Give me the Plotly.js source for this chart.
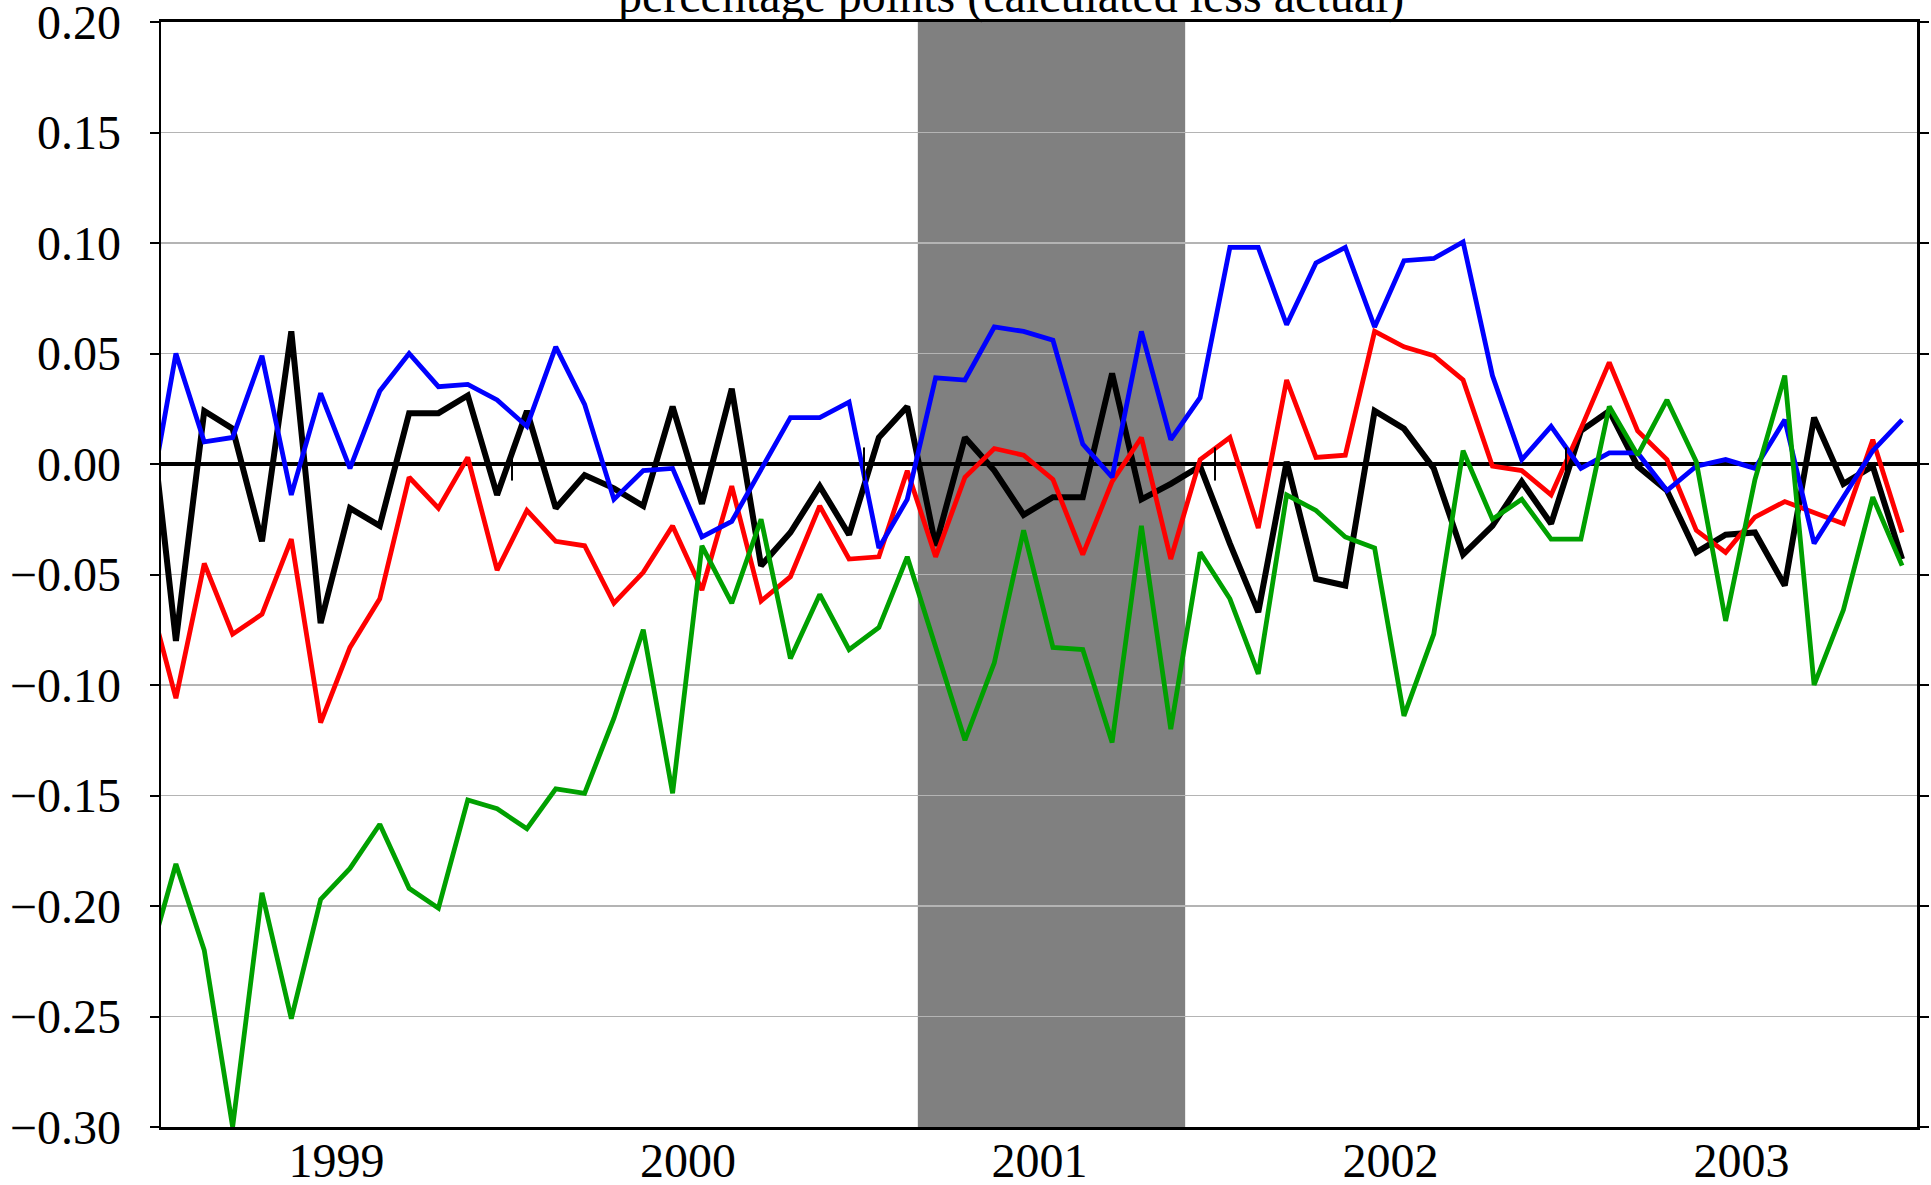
<!DOCTYPE html>
<html>
<head>
<meta charset="utf-8">
<script src="https://cdn.plot.ly/plotly-3.0.1.min.js"></script>
<style>html,body{margin:0;padding:0;background:#ffffff;overflow:hidden}</style>
</head>
<body>
<div id="chart" style="width:1931px;height:1185px"></div>
<script>
// Monthly observations, Dec 1998 (first, partly off-axis) through Dec 2003
const firstYear = 1998;
const firstMonthIndex = 11; // December (0-based)

const blueSeries = [-0.026,
  0.050, 0.010, 0.012, 0.049, -0.014, 0.032, -0.002, 0.033, 0.050, 0.035, 0.036, 0.029,
  0.017, 0.053, 0.027, -0.016, -0.003, -0.002, -0.033, -0.026, -0.002, 0.021, 0.021, 0.028,
  -0.038, -0.016, 0.039, 0.038, 0.062, 0.060, 0.056, 0.009, -0.006, 0.060, 0.011, 0.030,
  0.098, 0.098, 0.063, 0.091, 0.098, 0.062, 0.092, 0.093, 0.1005, 0.040, 0.002, 0.017,
  -0.002, 0.005, 0.005, -0.012, -0.001, 0.002, -0.002, 0.020, -0.036, -0.015, 0.006, 0.020];

const blackSeries = [0.041,
  -0.080, 0.024, 0.016, -0.035, 0.060, -0.072, -0.020, -0.028, 0.023, 0.023, 0.031, -0.014,
  0.024, -0.020, -0.005, -0.011, -0.019, 0.026, -0.018, 0.034, -0.046, -0.031, -0.010, -0.032,
  0.012, 0.026, -0.037, 0.012, -0.003, -0.023, -0.015, -0.015, 0.041, -0.016, -0.009, -0.001,
  -0.036, -0.067, 0.001, -0.052, -0.055, 0.024, 0.016, -0.002, -0.041, -0.028, -0.008, -0.027,
  0.015, 0.024, -0.001, -0.012, -0.040, -0.032, -0.031, -0.055, 0.021, -0.009, -0.001, -0.043];

const redSeries = [-0.055,
  -0.106, -0.045, -0.077, -0.068, -0.034, -0.117, -0.083, -0.061, -0.006, -0.020, 0.003, -0.048,
  -0.021, -0.035, -0.037, -0.063, -0.049, -0.028, -0.057, -0.010, -0.062, -0.051, -0.019, -0.043,
  -0.042, -0.003, -0.042, -0.006, 0.007, 0.004, -0.007, -0.041, -0.008, 0.012, -0.043, 0.002,
  0.012, -0.029, 0.038, 0.003, 0.004, 0.060, 0.053, 0.049, 0.038, -0.001, -0.003, -0.014,
  0.016, 0.046, 0.015, 0.002, -0.030, -0.040, -0.024, -0.017, -0.022, -0.027, 0.011, -0.031];

const greenSeries = [-0.229,
  -0.181, -0.220, -0.300, -0.194, -0.251, -0.197, -0.183, -0.163, -0.192, -0.201, -0.152, -0.156,
  -0.165, -0.147, -0.149, -0.115, -0.075, -0.149, -0.037, -0.063, -0.025, -0.088, -0.059, -0.084,
  -0.074, -0.042, -0.083, -0.125, -0.090, -0.030, -0.083, -0.084, -0.126, -0.028, -0.120, -0.040,
  -0.061, -0.095, -0.014, -0.021, -0.033, -0.038, -0.114, -0.077, 0.006, -0.025, -0.016, -0.034,
  -0.034, 0.026, 0.004, 0.029, 0.001, -0.071, -0.007, 0.040, -0.100, -0.066, -0.015, -0.046];

const yearLabels = ['1999', '2000', '2001', '2002', '2003'];
const yearBoundaries = ['2000-01-01', '2001-01-01', '2002-01-01', '2003-01-01'];
const recession = ['2001-02-26', '2001-12-01'];
const axisRange = ['1999-01-01', '2004-01-01'];
const zeroLine = [0, 0];
const titleText = 'percentage points (calculated less actual)';

function fmt(ms) { return new Date(ms).toISOString().slice(0, 19).replace('T', ' '); }
function monthMid(k) {
  const total = firstMonthIndex + k;
  const y = firstYear + Math.floor(total / 12);
  const m = total % 12;
  const a = Date.UTC(y, m, 1), b = Date.UTC(y, m + 1, 1);
  return fmt((a + b) / 2);
}
const dates = blueSeries.map((_, k) => monthMid(k));
const yearMids = yearLabels.map(s => {
  const y = parseInt(s, 10);
  return fmt((Date.UTC(y, 0, 1) + Date.UTC(y + 1, 0, 1)) / 2);
});

const FONT = '"Liberation Serif", "Times New Roman", Times, serif';

function line(y, color, width) {
  return { x: dates, y: y, type: 'scatter', mode: 'lines',
           line: { color: color, width: width }, hoverinfo: 'skip', showlegend: false };
}

const traces = [
  { x: axisRange, y: zeroLine, type: 'scatter', mode: 'lines',
    line: { color: '#000000', width: 4 }, hoverinfo: 'skip', showlegend: false },
  line(blackSeries, '#000000', 6),
  line(redSeries, '#ff0000', 4.8),
  line(blueSeries, '#0000ff', 4.8),
  line(greenSeries, '#00a000', 4.8)
];

const shapes = [
  { type: 'rect', xref: 'x', yref: 'paper', x0: recession[0], x1: recession[1], y0: 0, y1: 1,
    fillcolor: '#808080', line: { width: 0 }, layer: 'between' }
].concat(yearBoundaries.map(d => ({
  type: 'line', xref: 'x', yref: 'y', x0: d, x1: d, y0: -0.0075, y1: 0.0075,
  line: { color: '#000000', width: 2 }, layer: 'above'
})));

const layout = {
  width: 1931, height: 1185, autosize: false,
  margin: { l: 161, r: 14, t: 22, b: 58, pad: 0 },
  paper_bgcolor: '#ffffff', plot_bgcolor: '#ffffff',
  font: { family: FONT, size: 48, color: '#000000' },
  showlegend: false,
  xaxis: {
    type: 'date', range: axisRange, tickmode: 'array', tickvals: yearMids, ticktext: yearLabels,
    ticks: '', showgrid: false, zeroline: false,
    showline: true, linecolor: '#000000', linewidth: 3, mirror: true,
    tickfont: { family: FONT, size: 48, color: '#000000' }, ticklabelstandoff: -11,
    ticklabeloverflow: 'allow'
  },
  yaxis: {
    range: [-0.3000001, 0.2000001], tick0: 0, dtick: 0.05, tickformat: '.2f',
    ticks: 'outside', ticklen: 9, tickwidth: 2, tickcolor: '#000000',
    showline: true, linecolor: '#000000', linewidth: 2.5, mirror: 'ticks',
    showgrid: true, gridcolor: '#b4b4b4', gridwidth: 1.5, zeroline: false,
    tickfont: { family: FONT, size: 48, color: '#000000' }, ticklabelstandoff: 19,
    ticklabeloverflow: 'allow'
  },
  shapes: shapes,
  annotations: [{
    text: titleText, xref: 'paper', yref: 'paper', x: 0.484, y: 0.997,
    xanchor: 'center', yanchor: 'bottom', showarrow: false,
    font: { family: FONT, size: 48, color: '#000000' }
  }]
};

Plotly.newPlot('chart', traces, layout, { staticPlot: true, displayModeBar: false });
</script>
</body>
</html>
